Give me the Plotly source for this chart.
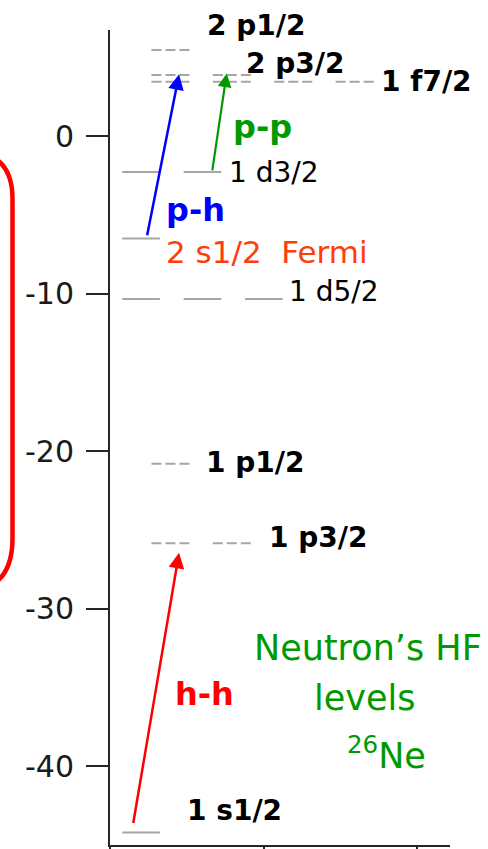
import plotly.graph_objects as go

# ---- data ----
level_names = ["1 s1/2", "1 p3/2", "1 p1/2", "1 d5/2", "2 s1/2", "1 d3/2", "1 f7/2", "2 p3/2", "2 p1/2"]
level_energies = [-44.2, -25.85, -20.8, -10.34, -6.5, -2.28, 3.45, 3.87, 5.46]
level_parity = ["+", "-", "-", "+", "+", "+", "-", "-", "-"]
level_two_j = [1, 3, 1, 5, 1, 3, 7, 3, 1]

transition_names = ["h-h", "p-h", "p-p"]
transition_from = ["1 s1/2", "2 s1/2", "1 d3/2"]
transition_to = ["1 p3/2", "2 p3/2", "2 p3/2"]

y_tick_values = [0, -10, -20, -30, -40]
y_tick_labels = ["0", "-10", "-20", "-30", "-40"]
x_tick_values = [0, 1, 2]

# ---- styling / layout helpers ----
FONT = "DejaVu Sans"
GRAY = "#a6a6a6"
E = dict(zip(level_names, level_energies))

fig = go.Figure()

sx, sy, dx, dy = [], [], [], []
for name, en, par, tj in zip(level_names, level_energies, level_parity, level_two_j):
    nseg = (tj + 1) // 2
    for k in range(nseg):
        if par == "+":
            x0 = 0.08 + 0.4 * k
            sx += [x0, x0 + 0.245, None]
            sy += [en, en, None]
        else:
            x0 = 0.27 + 0.4 * k
            dx += [x0, x0 + 0.255, None]
            dy += [en, en, None]

fig.add_trace(go.Scatter(x=sx, y=sy, mode="lines", line=dict(color=GRAY, width=2),
                         hoverinfo="skip", showlegend=False))
fig.add_trace(go.Scatter(x=dx, y=dy, mode="lines", line=dict(color=GRAY, width=2, dash="10px,4px"),
                         hoverinfo="skip", showlegend=False))

# plot-area pixel geometry
L, T, W, H = 110, 30, 340, 815
def px(x):
    return (x - L) / W
def py(y):
    return (T + H - y) / H

# level labels: (x position, y offset from level, bold)
label_pos = {
    "2 p3/2": (0.875, 0.75, True),
    "1 f7/2": (1.75, 0.0, True),
    "1 d3/2": (0.76, -0.05, False),
    "1 d5/2": (1.15, 0.45, False),
    "1 p1/2": (0.615, 0.1, True),
    "1 p3/2": (1.02, 0.35, True),
    "1 s1/2": (0.49, 1.4, True),
}
for name, (lx, off, bold) in label_pos.items():
    txt = f"<b>{name}</b>" if bold else name
    fig.add_annotation(x=lx, y=E[name] + off, xref="x", yref="y", text=txt, showarrow=False,
                       xanchor="left", yanchor="middle",
                       font=dict(family=FONT, size=28, color="black"))
# top label sits above the axis range -> paper coordinates
fig.add_annotation(x=px(205), y=py(25), xref="paper", yref="paper", text="<b>2 p1/2</b>",
                   showarrow=False, xanchor="left", yanchor="middle",
                   font=dict(family=FONT, size=28, color="black"))

# Fermi label
fig.add_annotation(x=0.355, y=E["2 s1/2"] - 0.85, xref="x", yref="y",
                   text="2 s1/2\u00a0\u00a0Fermi", showarrow=False,
                   xanchor="left", yanchor="middle",
                   font=dict(family=FONT, size=31, color="#ff3c0a"))

# transitions
arrow_style = {
    "h-h": dict(color="#ff0000", tail_x=0.15, head_x=0.45, tail_dy=0.5, head_dy=-0.6,
                lx=0.41, ly=-35.4, width=2.5),
    "p-h": dict(color="#0000ff", tail_x=0.24, head_x=0.45, tail_dy=0.1, head_dy=0.05,
                lx=0.35, ly=-4.7, width=2.5),
    "p-p": dict(color="#009900", tail_x=0.665, head_x=0.76, tail_dy=0.0, head_dy=0.1,
                lx=0.785, ly=0.55, width=2.2),
}
for tname, f, t in zip(transition_names, transition_from, transition_to):
    st = arrow_style[tname]
    fig.add_annotation(x=st["head_x"], y=E[t] + st["head_dy"], ax=st["tail_x"], ay=E[f] + st["tail_dy"],
                       xref="x", yref="y", axref="x", ayref="y", text="", showarrow=True,
                       arrowhead=2, arrowsize=1.25, arrowwidth=st["width"], arrowcolor=st["color"],
                       standoff=0, startstandoff=0)
    fig.add_annotation(x=st["lx"], y=st["ly"], xref="x", yref="y", text=f"<b>{tname}</b>",
                       showarrow=False, xanchor="left", yanchor="middle",
                       font=dict(family=FONT, size=32, color=st["color"]))

# title block
green = "#009900"
fig.add_annotation(x=1.68, y=-32.5, xref="x", yref="y", text="Neutron’s HF", showarrow=False,
                   xanchor="center", yanchor="middle", font=dict(family=FONT, size=35, color=green))
fig.add_annotation(x=1.66, y=-35.65, xref="x", yref="y", text="levels", showarrow=False,
                   xanchor="center", yanchor="middle", font=dict(family=FONT, size=35, color=green))
fig.add_annotation(x=1.80, y=-39.15, xref="x", yref="y", text="<sup>26</sup>Ne", showarrow=False,
                   xanchor="center", yanchor="middle", font=dict(family=FONT, size=35, color=green))

# red rounded bracket (paper coords from pixel positions)
path = (f"M {px(-45)},{py(152)} L {px(-32)},{py(152)} "
        f"Q {px(12.5)},{py(152)} {px(12.5)},{py(199)} "
        f"L {px(12.5)},{py(538)} "
        f"Q {px(12.5)},{py(590)} {px(-32)},{py(590)} L {px(-45)},{py(590)}")
fig.add_shape(type="path", path=path, xref="paper", yref="paper",
              line=dict(color="#ff0000", width=4.5))

fig.update_layout(
    width=488, height=849,
    margin=dict(l=L, r=488 - L - W, t=T, b=849 - T - H, autoexpand=False),
    plot_bgcolor="white", paper_bgcolor="white",
    showlegend=False,
)
fig.update_xaxes(range=[0, 2.215], showgrid=False, zeroline=False, showline=True, automargin=False,
                 linecolor="#262626", linewidth=2, ticks="outside", ticklen=10, tickwidth=2,
                 tickcolor="#262626", tickvals=x_tick_values, showticklabels=False)
fig.update_yaxes(range=[-45.0, 6.73], showgrid=False, zeroline=False, showline=True, automargin=False,
                 linecolor="#262626", linewidth=2, ticks="outside", ticklen=22, tickwidth=2,
                 tickcolor="#262626", tickvals=y_tick_values, ticktext=y_tick_labels,
                 ticklabelstandoff=6,
                 tickfont=dict(family=FONT, size=30, color="#1a1a1a"))

fig.write_html("out.html")
